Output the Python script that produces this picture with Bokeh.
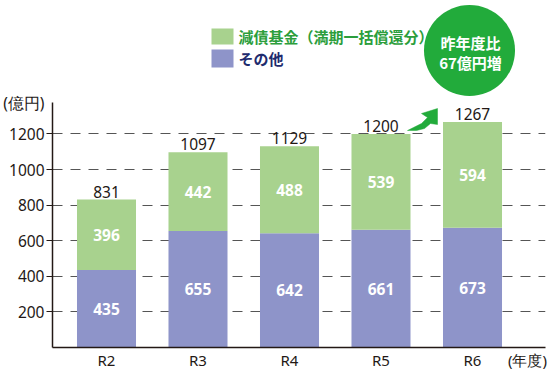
from bokeh.plotting import figure
from bokeh.models import FixedTicker, Label
from bokeh.core.properties import value
from bokeh.embed import file_html
from bokeh.resources import INLINE

categories = ["R2", "R3", "R4", "R5", "R6"]
fund = [396, 442, 488, 539, 594]        # 減債基金（満期一括償還分）
other = [435, 655, 642, 661, 673]       # その他
totals = [831, 1097, 1129, 1200, 1267]
y_ticks = [200, 400, 600, 800, 1000, 1200]

GREEN = "#a8d28e"
PURPLE = "#8e94c9"
CIRCLE = "#22ab3b"
TXT = "#231815"
NUM_FONT = "Noto Sans"
JP_FONT = "Noto Sans CJK JP"

# layout helpers (picture pixel -> data); figure origin observed at picture (0,0)
FR_L, FR_B, FR_T, FR_R = 52, 347, 0, 545
CAT_W = 91.5
X0 = -(106 - FR_L) / CAT_W
PXU = 0.178  # px per unit
def px2x(px):
    return X0 + (px - FR_L) / CAT_W
def py2y(py):
    return (FR_B - py) / PXU

x = list(range(len(categories)))
Y_END = (FR_B - FR_T) / PXU
UNIT_X = 4.6                     # (年度) note on the category axis
UNIT_Y = round(py2y(102), 1)     # (億円) note on the value axis

p = figure(width=550, height=373, output_backend="svg", toolbar_location=None,
           x_range=(X0, px2x(FR_R)), y_range=(0, Y_END),
           min_border_left=FR_L, min_border_right=550 - FR_R, min_border_top=0,
           min_border_bottom=373 - FR_B, outline_line_color=None)
p.frame_width = FR_R - FR_L
p.frame_height = FR_B - FR_T

tops2 = [o + f for o, f in zip(other, fund)]
p.vbar(x=x, width=0.645, bottom=0, top=other, fill_color=PURPLE, line_color=None)
p.vbar(x=x, width=0.645, bottom=other, top=tops2, fill_color=GREEN, line_color=None)

# x axis
p.xaxis.ticker = FixedTicker(ticks=x + [UNIT_X])
x_over = {i: c for i, c in enumerate(categories)}
x_over[UNIT_X] = "(年度)"
p.xaxis.major_label_overrides = x_over
p.xaxis.major_tick_line_color = None
p.xaxis.major_tick_out = 0
p.xaxis.major_tick_in = 0
p.xaxis.minor_tick_line_color = None
p.xaxis.axis_line_color = "#231815"
p.xaxis.axis_line_width = 1.5
p.xaxis.major_label_text_font = NUM_FONT
p.xaxis.major_label_text_font_size = "15px"
p.xaxis.major_label_text_color = TXT
p.xaxis.major_label_standoff = 2

# y axis: numbers + unit note as labels, tick marks drawn as "minor" ticks
p.yaxis.ticker = FixedTicker(ticks=y_ticks + [UNIT_Y], minor_ticks=y_ticks)
p.yaxis.major_label_overrides = {UNIT_Y: "(億円)"}
p.yaxis.bounds = (0, UNIT_Y)
p.yaxis.axis_line_color = "#231815"
p.yaxis.axis_line_width = 1.5
p.yaxis.major_tick_line_color = None
p.yaxis.major_tick_out = 6
p.yaxis.major_tick_in = 0
p.yaxis.minor_tick_out = 6
p.yaxis.minor_tick_in = 0
p.yaxis.minor_tick_line_color = "#231815"
p.yaxis.minor_tick_line_width = 1.2
p.yaxis.major_label_text_font = NUM_FONT
p.yaxis.major_label_text_font_size = "15.5px"
p.yaxis.major_label_text_color = TXT
p.yaxis.major_label_standoff = 2

p.xgrid.grid_line_color = None
p.ygrid.ticker = FixedTicker(ticks=y_ticks)
p.ygrid.grid_line_color = "#555555"
p.ygrid.grid_line_dash = "10 8"
p.ygrid.grid_line_width = 1

# value labels
p.text(x=x, y=tops2, text=[str(t) for t in totals], text_font=value(NUM_FONT),
       text_font_size="15.5px", text_color=TXT, text_align="center",
       text_baseline="bottom", y_offset=-2)
p.text(x=x, y=[o / 2 for o in other], text=[str(v) for v in other],
       text_font=value(NUM_FONT), text_font_size="15.5px", text_font_style="bold",
       text_color="white", text_align="center", text_baseline="middle")
p.text(x=x, y=[o + f / 2 for o, f in zip(other, fund)], text=[str(v) for v in fund],
       text_font=value(NUM_FONT), text_font_size="15.5px", text_font_style="bold",
       text_color="white", text_align="center", text_baseline="middle")

# legend
p.quad(left=[px2x(211)] * 2, right=[px2x(233)] * 2,
       top=[py2y(28), py2y(49)], bottom=[py2y(44), py2y(67)],
       fill_color=[GREEN, PURPLE], line_color=None)
p.add_layout(Label(x=px2x(238), y=py2y(36), text="減債基金（満期一括償還分）",
                   text_font=JP_FONT, text_font_size="15px", text_font_style="bold",
                   text_color="#2c9e3c", text_baseline="middle"))
p.add_layout(Label(x=px2x(238), y=py2y(58), text="その他",
                   text_font=JP_FONT, text_font_size="15px", text_font_style="bold",
                   text_color="#1e2b6e", text_baseline="middle"))

# badge circle
p.scatter(x=[px2x(469)], y=[py2y(50)], size=91, marker="circle",
          fill_color=CIRCLE, line_color=None)
p.add_layout(Label(x=px2x(470), y=py2y(42), text="昨年度比", text_font=JP_FONT,
                   text_font_size="15px", text_font_style="bold", text_color="white",
                   text_align="center", text_baseline="middle"))
p.add_layout(Label(x=px2x(470), y=py2y(62), text="67億円増", text_font=JP_FONT,
                   text_font_size="15px", text_font_style="bold", text_color="white",
                   text_align="center", text_baseline="middle"))

# curved arrow
arrow_px = [(407, 130), (416, 130), (424, 128), (430, 123), (437, 124), (437, 108),
            (421, 113), (427, 117), (421, 123), (413, 127)]
p.patch(x=[px2x(a) for a, b in arrow_px], y=[py2y(b) for a, b in arrow_px],
        fill_color=CIRCLE, line_color=CIRCLE, line_width=0.5)

open("out.html", "w").write(file_html(p, INLINE))
